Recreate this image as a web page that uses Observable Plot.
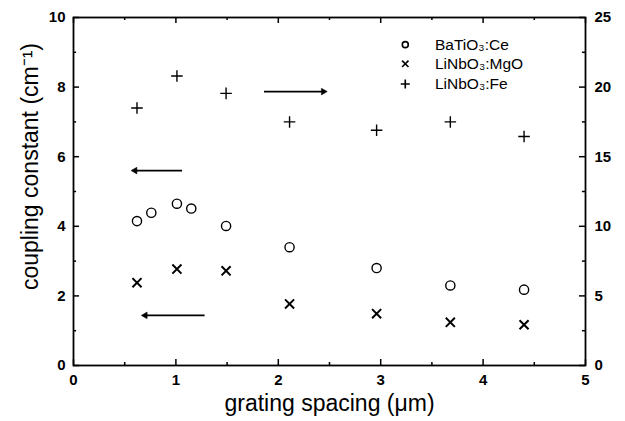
<!DOCTYPE html>
<html><head><meta charset="utf-8">
<script src="https://cdn.jsdelivr.net/npm/d3@7"></script>
<script src="https://cdn.jsdelivr.net/npm/@observablehq/plot@0.6"></script>
<style>body{margin:0;background:#fff} #chart{width:625px;height:421px}</style>
</head><body><div id="chart"></div>
<script>
// BaTiO3:Ce (left axis, cm^-1)
const baX = [0.62, 0.76, 1.01, 1.15, 1.49, 2.11, 2.96, 3.68, 4.40];
const baY = [4.15, 4.39, 4.65, 4.51, 4.01, 3.40, 2.80, 2.30, 2.18];
// LiNbO3:MgO (left axis)
const mgX = [0.62, 1.01, 1.49, 2.11, 2.96, 3.68, 4.40];
const mgY = [2.38, 2.77, 2.72, 1.77, 1.49, 1.24, 1.17];
// LiNbO3:Fe (right axis, 0-25)
const feX = [0.62, 1.01, 1.49, 2.11, 2.96, 3.68, 4.40];
const feY = [18.5, 20.8, 19.55, 17.5, 16.9, 17.5, 16.45];

const xMajor = [0, 1, 2, 3, 4, 5];
const xMinor = [0.5, 1.5, 2.5, 3.5, 4.5];
const yMajor = [0, 2, 4, 6, 8, 10];
const yMinor = [1, 3, 5, 7, 9];
const rightLabels = [0, 5, 10, 15, 20, 25];

// arrows (left-axis units): start -> end
const arrowX1 = [1.06, 1.28, 1.86];
const arrowX2 = [0.60, 0.70, 2.44];
const arrowY = [5.6, 1.44, 7.87];

const legendLabels = ["BaTiO\u2083:Ce", "LiNbO\u2083:MgO", "LiNbO\u2083:Fe"];
const legendSymbols = ["circle", "times", "plus"];
const legendX = 3.24, legendTextX = 3.53;
const legendY = [9.22, 8.67, 8.09];

const ratio = 25 / 10;
const ba = baX.map((x, i) => ({x, y: baY[i]}));
const mg = mgX.map((x, i) => ({x, y: mgY[i]}));
const fe = feX.map((x, i) => ({x, y: feY[i]}));
const arrows = arrowX1.map((x1, i) => ({x1, x2: arrowX2[i], y: arrowY[i]}));
const legend = legendLabels.map((t, i) => ({t, s: legendSymbols[i], y: legendY[i]}));

const tx = 0.059, txm = 0.03, ty = 0.172, tym = 0.086;

const chart = Plot.plot({
  width: 625, height: 421,
  marginLeft: 73, marginRight: 40, marginTop: 17, marginBottom: 56,
  x: {domain: [0, 5]},
  y: {domain: [0, 10]},
  style: {fontFamily: "'Liberation Sans', Arial, sans-serif", color: "#000", background: "#fff"},
  marks: [
    Plot.axisX({ticks: xMajor, tickSize: 0, tickPadding: 9, fontSize: 15, fontWeight: "bold", label: null, tickFormat: d => String(d)}),
    Plot.axisY({anchor: "left", ticks: yMajor, tickSize: 0, tickPadding: 8, fontSize: 15, fontWeight: "bold", label: null, tickFormat: d => String(d)}),
    Plot.axisY({anchor: "right", ticks: yMajor, tickSize: 0, tickPadding: 9, fontSize: 15, fontWeight: "bold", label: null, tickFormat: d => String(d * ratio)}),
    // inward ticks
    Plot.ruleX(xMajor, {x: d => d, y1: 0, y2: ty, strokeWidth: 1.5}),
    Plot.ruleX(xMinor, {x: d => d, y1: 0, y2: tym, strokeWidth: 1.5}),
    Plot.ruleX(xMajor, {x: d => d, y1: 10, y2: 10 - ty, strokeWidth: 1.5}),
    Plot.ruleX(xMinor, {x: d => d, y1: 10, y2: 10 - tym, strokeWidth: 1.5}),
    Plot.ruleY(yMajor, {y: d => d, x1: 0, x2: tx, strokeWidth: 1.5}),
    Plot.ruleY(yMinor, {y: d => d, x1: 0, x2: txm, strokeWidth: 1.5}),
    Plot.ruleY(yMajor, {y: d => d, x1: 5, x2: 5 - tx, strokeWidth: 1.5}),
    Plot.ruleY(yMinor, {y: d => d, x1: 5, x2: 5 - txm, strokeWidth: 1.5}),
    Plot.frame({stroke: "#000", strokeWidth: 1.8}),
    // axis titles
    Plot.text(["grating spacing (\u03bcm)"], {frameAnchor: "bottom", textAnchor: "middle", dy: 45, fontSize: 23, fill: "#000"}),
    Plot.text(["coupling constant (cm\u207b\u00b9)"], {frameAnchor: "left", textAnchor: "middle", rotate: -90, dx: -43, dy: -25, fontSize: 23, fill: "#000"}),
    // data
    Plot.dot(ba, {x: "x", y: "y", symbol: "circle", r: 4.6, stroke: "#000", strokeWidth: 1.4, fill: "none"}),
    Plot.dot(mg, {x: "x", y: "y", symbol: "times", r: 4.2, stroke: "#000", strokeWidth: 2}),
    Plot.dot(fe, {x: "x", y: d => d.y / ratio, symbol: "plus", r: 3.8, stroke: "#000", strokeWidth: 1.4}),
    // arrows
    Plot.link(arrows, {x1: "x1", x2: "x2", y1: "y", y2: "y", stroke: "#000", strokeWidth: 1.6}),
    Plot.dot(arrows, {x: "x2", y: "y", symbol: "triangle2", rotate: d => d.x2 < d.x1 ? -90 : 90, r: 3.2, fill: "#000", stroke: "#000", strokeWidth: 0.5}),
    // legend
    Plot.dot(legend, {x: () => legendX, y: "y", symbol: "s", r: d => d.s === "circle" ? 3.5 : 3.6, stroke: "#000", strokeWidth: 1.6, fill: "none"}),
    Plot.text(legend, {x: () => legendTextX, y: "y", text: "t", textAnchor: "start", fontSize: 15.5, fill: "#000"})
  ]
});
document.getElementById("chart").append(chart);
</script>
</body></html>
